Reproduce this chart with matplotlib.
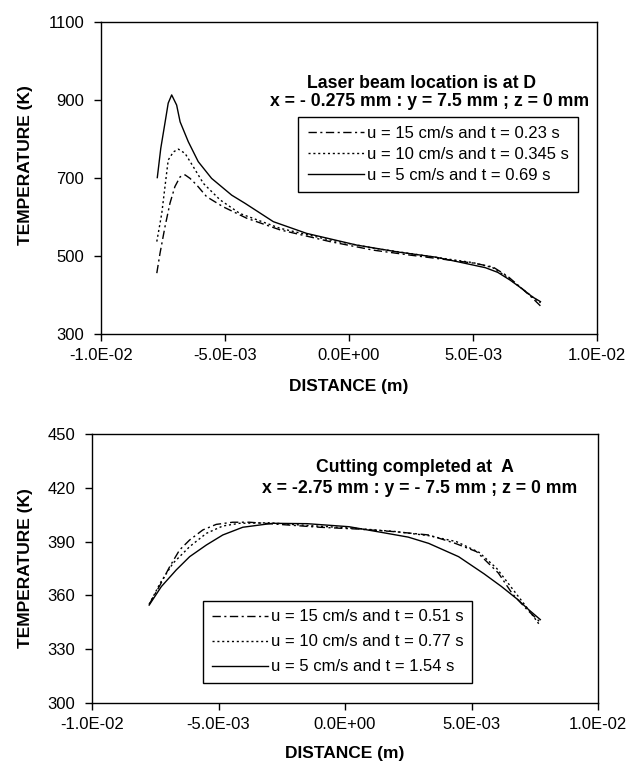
import numpy as np
import matplotlib
matplotlib.use("Agg")
from matplotlib import pyplot as plt
from matplotlib.ticker import FuncFormatter

plt.rcParams['font.family'] = ['Liberation Sans', 'DejaVu Sans']
plt.rcParams['font.size'] = 12

# ---- Top panel: laser beam at D (distance in mm, temperature in K)
top_x15 = [-7.75, -7.62, -7.42, -7.22, -7.02, -6.81, -6.61, -6.41, -6.14, -5.74, -5.07, -4.13,
           -2.78, -0.77, 0.98, 2.5, 4.0, 5.0, 5.8, 6.4, 7.0, 7.4, 7.72]
top_t15 = [456, 507, 575, 635, 678, 703, 708, 699, 682, 652, 626, 597,
           567, 537, 515, 502, 490, 482, 472, 448, 415, 392, 372]

top_x10 = [-7.75, -7.55, -7.42, -7.29, -7.08, -6.88, -6.61, -6.28, -5.87, -5.2, -4.4,
           -2.78, -0.77, 1.0, 2.5, 4.0, 5.0, 5.8, 6.4, 7.0, 7.4, 7.72]
top_t10 = [537, 609, 678, 746, 767, 774, 763, 729, 686, 644, 609,
           571, 541, 520, 506, 492, 483, 470, 445, 415, 395, 380]

top_x5 = [-7.73, -7.59, -7.39, -7.29, -7.15, -6.95, -6.81, -6.48, -6.08, -5.54, -4.73, -4.19,
          -3.05, -1.71, 0.31, 2.0, 3.5, 4.48, 5.5, 6.0, 6.5, 7.0, 7.4, 7.72]
top_t5 = [701, 776, 853, 892, 913, 887, 844, 793, 742, 699, 656, 635,
          588, 558, 528, 510, 497, 484, 470, 458, 438, 415, 395, 383]

top_labels = ["u = 15 cm/s and t = 0.23 s",
              "u = 10 cm/s and t = 0.345 s",
              "u = 5 cm/s and t = 0.69 s"]

# ---- Bottom panel: cutting completed at A
bot_x15 = [-7.74, -7.3, -6.93, -6.54, -6.14, -5.62, -5.09, -4.44, -3.78, -2.5, -1.0, 0.5,
           2.0, 3.31, 4.36, 5.2, 6.06, 6.61, 7.2, 7.72]
bot_t15 = [355, 366, 376, 385.3, 390.9, 396.5, 399.6, 400.8, 400.8, 399.5, 398, 397,
           395.5, 393.7, 389, 384.4, 372.5, 361, 352, 345]

bot_x10 = [-7.74, -7.3, -6.8, -6.14, -5.48, -4.83, -4.17, -3.0, -1.5, 0.5, 2.0, 3.31,
           4.4, 5.3, 6.0, 6.6, 7.2, 7.72]
bot_t10 = [355, 367, 377.9, 387.2, 394.6, 398.7, 400.2, 400.5, 399, 397.3, 395.6, 393.3,
           390, 384, 375, 364, 353, 343]

bot_x5 = [-7.74, -7.26, -6.67, -6.14, -5.48, -4.83, -4.04, -2.86, -1.5, 0.16, 1.5, 2.5,
          3.31, 4.49, 5.5, 6.18, 6.8, 7.28, 7.72]
bot_t5 = [354.6, 364.9, 374.2, 381.6, 388.1, 393.7, 398, 400.2, 400, 398.3, 395, 392.5,
          389, 381.6, 372, 365, 358, 351.8, 346.5]

bot_labels = ["u = 15 cm/s and t = 0.51 s",
              "u = 10 cm/s and t = 0.77 s",
              "u = 5 cm/s and t = 1.54 s"]

DASHDOT = (0, (6, 2.5, 1.5, 2.5))
DOTTED = (0, (1.5, 2))
BOLD = 12.7


def style_axes(ax, ymin, ymax, ystep):
    ax.set_xlim(-0.01, 0.01)
    ax.set_ylim(ymin, ymax)
    ax.set_xticks(np.arange(-0.01, 0.0101, 0.005))
    ax.set_yticks(np.arange(ymin, ymax + 1, ystep))
    ax.xaxis.set_major_formatter(FuncFormatter(lambda v, _: f"{v:.1E}"))
    ax.tick_params(axis='both', direction='out', length=5, width=1, labelsize=12)
    ax.tick_params(axis='y', pad=7)
    ax.tick_params(axis='x', pad=5)
    for s in ax.spines.values():
        s.set_linewidth(1)
    ax.set_xlabel('DISTANCE (m)', fontweight='bold', fontsize=12.5)
    ax.set_ylabel('TEMPERATURE (K)', fontweight='bold', fontsize=12.5)


def draw(ax, xs, ts, labels):
    styles = [DASHDOT, DOTTED, '-']
    for x, t, lab, ls in zip(xs, ts, labels, styles):
        ax.plot(np.array(x) * 1e-3, t, color='black', lw=1.0, linestyle=ls, label=lab)


fig = plt.figure(figsize=(6.33, 7.71), dpi=100)

ax1 = fig.add_axes([101 / 633, 1 - 334 / 771, 496 / 633, 312 / 771])
draw(ax1, [top_x15, top_x10, top_x5], [top_t15, top_t10, top_t5], top_labels)
style_axes(ax1, 300, 1100, 200)
ax1.xaxis.set_label_coords(0.5, -0.145)
ax1.yaxis.set_label_coords(-0.137, 0.54)
ax1.text(0.647, 0.804, 'Laser beam location is at D', transform=ax1.transAxes,
         ha='center', va='center', fontweight='bold', fontsize=BOLD)
ax1.text(0.663, 0.744, 'x = - 0.275 mm : y = 7.5 mm ; z = 0 mm', transform=ax1.transAxes,
         ha='center', va='center', fontweight='bold', fontsize=BOLD)
leg1 = ax1.legend(loc='upper left', bbox_to_anchor=(0.398, 0.6965), borderaxespad=0,
                  fontsize=12, frameon=True, fancybox=False, framealpha=1,
                  edgecolor='black', handlelength=3.4, handletextpad=0.15,
                  labelspacing=0.35, borderpad=0.55)
leg1.get_frame().set_linewidth(1)

ax2 = fig.add_axes([92 / 633, 1 - 703 / 771, 506 / 633, 269 / 771])
draw(ax2, [bot_x15, bot_x10, bot_x5], [bot_t15, bot_t10, bot_t5], bot_labels)
style_axes(ax2, 300, 450, 30)
ax2.xaxis.set_label_coords(0.5, -0.16)
ax2.yaxis.set_label_coords(-0.117, 0.5)
ax2.text(0.639, 0.874, 'Cutting completed at  A', transform=ax2.transAxes,
         ha='center', va='center', fontweight='bold', fontsize=BOLD)
ax2.text(0.647, 0.796, 'x = -2.75 mm : y = - 7.5 mm ; z = 0 mm', transform=ax2.transAxes,
         ha='center', va='center', fontweight='bold', fontsize=BOLD)
leg2 = ax2.legend(loc='upper left', bbox_to_anchor=(0.22, 0.379), borderaxespad=0,
                  fontsize=12, frameon=True, fancybox=False, framealpha=1,
                  edgecolor='black', handlelength=3.4, handletextpad=0.15,
                  labelspacing=0.6, borderpad=0.5)
leg2.get_frame().set_linewidth(1)

fig.savefig('out.png', dpi=100)
